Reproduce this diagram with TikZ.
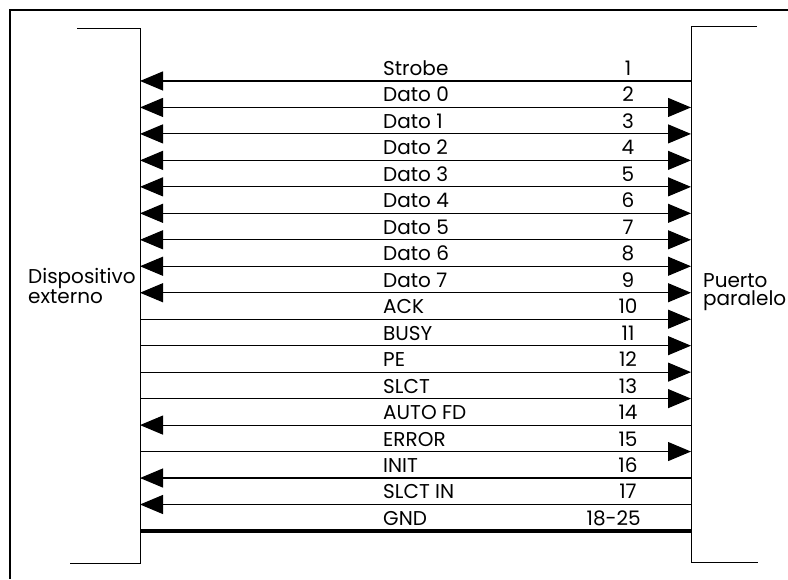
\documentclass[tikz,border=0pt]{standalone}
\usepackage{fontspec}
\setmainfont{Poppins}
\usetikzlibrary{arrows.meta}

\begin{document}
\begin{tikzpicture}[x=1pt, y=-1pt, >={Triangle[length=23pt, width=19pt]}]
    \tikzset{
        wire/.style={line width=1.1pt},
        to device/.style={wire, <-},
        to port/.style={wire, ->},
        both ways/.style={wire, <->},
        ground wire/.style={line width=4pt},
        bracket/.style={line width=0.9pt},
        signal label/.style={
                font=\fontsize{20}{20}\selectfont, anchor=base west, inner sep=0pt
            },
        pin label/.style={
                font=\fontsize{20}{20}\selectfont, anchor=base, inner sep=0pt
            },
        side label/.style={
                font=\fontsize{20}{18}\selectfont, align=left, anchor=north west, inner sep=0pt
            }
    }
    \useasboundingbox (0,0) rectangle (788,579);

    % marco exterior
    \draw[line width=2.5pt] (788,10) -- (10,10) -- (10,579);

    % dispositivo externo y puerto paralelo
    \draw[bracket] (77,28) -- (140,28) -- (140,563) -- (70,563);
    \draw[bracket] (757,26) -- (691,26) -- (691,562) -- (758,562);
    \node[side label] (dev) at (28,268) {Dispositivo\\externo};
    \node[side label] (port) at (703,273) {Puerto\\paralelo};

    % lineas de senal
    \foreach \n/\sig/\pin/\dir in {1/Strobe/1/to device, 2/Dato 0/2/both ways, 3/Dato 1/3/both ways,
            4/Dato 2/4/both ways, 5/Dato 3/5/both ways, 6/Dato 4/6/both ways, 7/Dato 5/7/both ways,
            8/Dato 6/8/both ways, 9/Dato 7/9/both ways, 10/ACK/10/to port, 11/BUSY/11/to port,
            12/PE/12/to port, 13/SLCT/13/to port, 14/AUTO FD/14/to device, 15/ERROR/15/to port,
            16/INIT/16/to device, 17/SLCT IN/17/to device} {
            \coordinate (l\n) at (140, 54.5+26.47*\n);
            \coordinate (r\n) at (691, 54.5+26.47*\n);
            \draw[\dir] (l\n) -- (r\n);
            \node[signal label] (s\n) at (383, 49+26.47*\n) {\sig};
            \node[pin label] (p\n) at (628, 49+26.47*\n) {\pin};
        }

    % masa
    \coordinate (l18) at (140,531);
    \coordinate (r18) at (691,531);
    \draw[ground wire] (l18) -- (r18);
    \node[signal label] (s18) at (383,525.5) {GND};
    \node[pin label, anchor=base east] (p18) at (641,525.5) {18-25};
\end{tikzpicture}
\end{document}
